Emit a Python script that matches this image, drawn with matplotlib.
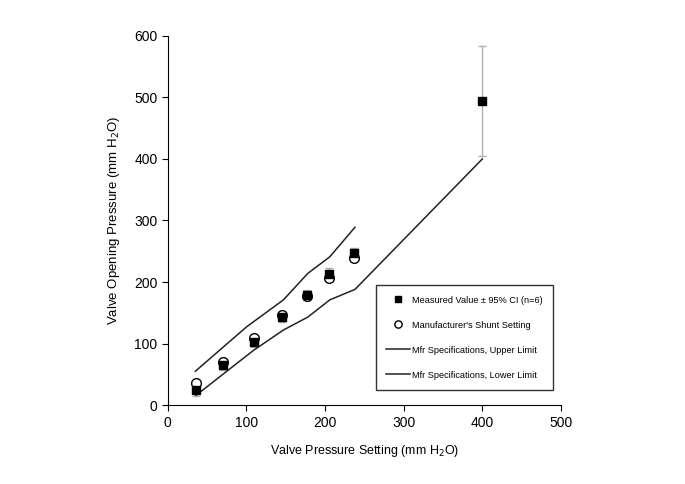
import matplotlib
matplotlib.use('Agg')
import matplotlib.pyplot as plt

plt.rcParams['font.family'] = ['Liberation Sans', 'DejaVu Sans']

# Measured values with 95% CI
settings = [36, 70, 110, 145, 177, 205, 237, 400]
measured = [24, 65, 102, 143, 179, 213, 247, 494]
ci = [10, 8, 8, 8, 8, 10, 8, 90]

# Manufacturer's shunt setting
mfr_x = [36, 70, 110, 145, 177, 205, 237]
mfr_y = [36, 70, 109, 146, 177, 206, 239]

# Specification limits
upper_x = [35, 100, 147, 178, 206, 238]
upper_y = [55, 127, 171, 214, 241, 289]
lower_x = [36, 109, 147, 178, 206, 238, 400]
lower_y = [16, 89, 122, 143, 171, 188, 400]

fig = plt.figure(figsize=(6.85, 4.84), dpi=100)
ax = fig.add_axes([0.245, 0.163, 0.574, 0.763])

ax.errorbar(settings, measured, yerr=ci, fmt='none', ecolor='#b0b0b0',
            elinewidth=1, capsize=3, capthick=1, zorder=1)
h1, = ax.plot(settings, measured, 's', color='black', markersize=6, zorder=3,
              label='Measured Value \u00b1 95% CI (n=6)')
h2, = ax.plot(mfr_x, mfr_y, 'o', markerfacecolor='white', markeredgecolor='black',
              markersize=7, markeredgewidth=1, zorder=2,
              label="Manufacturer's Shunt Setting")
h3, = ax.plot(upper_x, upper_y, '-', color='#222222', linewidth=1.1,
              label='Mfr Specifications, Upper Limit')
h4, = ax.plot(lower_x, lower_y, '-', color='#222222', linewidth=1.1,
              label='Mfr Specifications, Lower Limit')

ax.set_xlim(0, 500)
ax.set_ylim(0, 600)
ax.set_xticks(range(0, 501, 100))
ax.set_yticks(range(0, 601, 100))
ax.spines['top'].set_visible(False)
ax.spines['right'].set_visible(False)
ax.tick_params(direction='out', length=4, labelsize=10)

ax.set_xlabel('Valve Pressure Setting (mm H$_2$O)', fontsize=9, labelpad=10)
ax.set_ylabel('Valve Opening Pressure (mm H$_2$O)', fontsize=9.5, labelpad=9)

leg = ax.legend(handles=[h1, h2, h3, h4], loc='upper left',
                bbox_to_anchor=(0.530, 0.324), fontsize=6.6, frameon=True,
                fancybox=False, edgecolor='black', labelspacing=1.75,
                handlelength=2.6, handletextpad=0.2, borderpad=1.1,
                borderaxespad=0, markerscale=0.75)
leg.get_frame().set_linewidth(1)

plt.savefig('out.png', dpi=100)
